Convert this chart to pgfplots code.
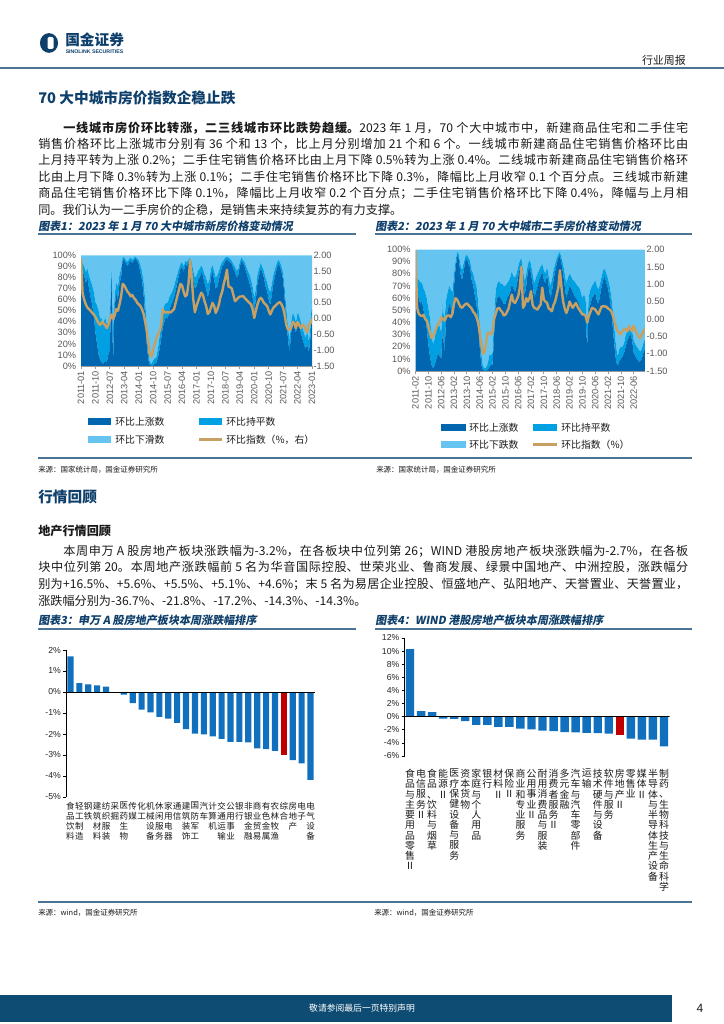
\documentclass[border=0pt]{standalone}
\usepackage{fontspec}
\setmainfont{Noto Sans CJK SC}
\newfontfamily\arial{Liberation Sans}
\newfontfamily\capfont{Noto Sans CJK SC}[FakeSlant=0.18]
\usepackage{pgfplots}
\usepackage{pgfplotstable}
\pgfplotsset{compat=1.18}
\XeTeXlinebreaklocale "zh"
\XeTeXlinebreakskip=0pt plus 2pt minus 0.2pt
\definecolor{navy}{HTML}{0E3F6B}
\definecolor{rulec}{HTML}{4A7396}
\definecolor{cdark}{HTML}{0066B0}
\definecolor{cmid}{HTML}{00A0E2}
\definecolor{clight}{HTML}{66C5F0}
\definecolor{cgold}{HTML}{C9A063}
\definecolor{cbar}{HTML}{1170BE}
\definecolor{cred}{HTML}{C00000}
\definecolor{foot}{HTML}{0F4C73}
\definecolor{tickc}{HTML}{595959}
\definecolor{bodyc}{HTML}{1A1A1A}
\def\vsA#1{\ifx#1\relax\else\hbox to 1em{\hss#1\hss}\expandafter\vsA\fi}
\newcommand\vs[1]{\vbox{\lineskiplimit=-100pt\lineskip=0pt\vsA#1\relax}}
\newcommand\JL[2]{\parbox[t]{#1}{\tolerance=10000\hbadness=10000\parfillskip=0pt\parindent=0pt #2}}
\newcommand\bodyf{\fontsize{9.1}{12}\selectfont}
\newcommand\tickf{\arial\fontsize{6.9}{7.5}\selectfont}
\newcommand\tickg{\arial\fontsize{6.5}{7.5}\selectfont}
\newcommand\labf{\fontsize{6.4}{7.6}\selectfont}
\newcommand\labg{\fontsize{7.4}{7.7}\selectfont}
\newcommand\lgf{\fontsize{7.4}{8.5}\selectfont}
\newcommand\capf{\capfont\bfseries\fontsize{8.3}{10}\selectfont}
\newcommand\srcf{\fontsize{5.6}{7}\selectfont}

\pgfplotstableread[row sep=\\]{
i up flat idx\\
0 90 5 1.90\\ 1 85 8 0.80\\ 2 82 8 0.60\\ 3 75 10 0.45\\ 4 80 8 0.35\\ 5 70 12 0.30\\ 6 62 15 0.25\\ 7 55 18 0.18\\ 8 45 22 0.13\\ 9 30 28 0.05\\
10 20 35 -0.05\\ 11 10 40 -0.15\\ 12 5 38 -0.20\\ 13 3 40 -0.10\\ 14 2 35 -0.15\\ 15 5 40 -0.20\\ 16 3 35 -0.30\\ 17 10 30 -0.20\\ 18 15 30 -0.05\\ 19 80 5 0.13\\
20 5 30 0.00\\ 21 55 10 0.10\\ 22 65 10 0.30\\ 23 60 12 0.25\\ 24 75 8 0.45\\ 25 80 8 0.70\\ 26 97 2 1.10\\ 27 95 3 1.05\\ 28 93 3 0.95\\ 29 90 4 0.85\\
30 94 3 0.80\\ 31 95 3 0.70\\ 32 93 3 0.75\\ 33 96 2 0.65\\ 34 97 2 0.60\\ 35 95 2 0.50\\ 36 92 4 0.45\\ 37 85 6 0.40\\ 38 78 8 0.30\\ 39 65 12 0.15\\
40 45 15 -0.10\\ 41 20 15 -0.40\\ 42 5 8 -0.80\\ 43 1 2 -1.15\\ 44 0 2 -1.20\\ 45 1 4 -1.00\\ 46 2 5 -0.80\\ 47 3 5 -0.60\\ 48 8 8 -0.50\\ 49 15 12 -0.40\\
50 25 15 -0.20\\ 51 35 15 0.30\\ 52 40 15 0.20\\ 53 45 12 0.20\\ 54 42 15 0.20\\ 55 50 12 0.20\\ 56 55 10 0.20\\ 57 58 10 0.25\\ 58 62 10 0.30\\ 59 68 10 0.50\\
60 75 8 0.70\\ 61 82 6 0.90\\ 62 88 4 1.10\\ 63 90 4 1.05\\ 64 85 5 0.85\\ 65 92 3 0.70\\ 66 90 4 0.75\\ 67 93 3 1.10\\ 68 95 3 1.85\\ 69 90 4 1.30\\
70 78 8 0.60\\ 71 70 10 0.20\\ 72 72 10 0.40\\ 73 78 8 0.55\\ 74 80 8 0.70\\ 75 85 6 0.82\\ 76 82 6 0.75\\ 77 75 8 0.55\\ 78 70 10 0.40\\ 79 62 12 0.15\\
80 68 10 0.20\\ 81 80 8 0.35\\ 82 85 6 0.50\\ 83 78 8 0.40\\ 84 70 10 0.18\\ 85 72 10 0.30\\ 86 78 8 0.45\\ 87 85 6 0.70\\ 88 90 4 0.85\\ 89 92 4 1.10\\
90 95 3 1.30\\ 91 97 2 1.55\\ 92 95 3 1.00\\ 93 94 3 1.00\\ 94 92 3 0.95\\ 95 88 4 0.75\\ 96 85 5 0.55\\ 97 80 6 0.60\\ 98 82 6 0.66\\ 99 90 4 0.70\\
100 95 3 0.70\\ 101 93 3 0.72\\ 102 90 4 0.66\\ 103 85 5 0.60\\ 104 80 6 0.55\\ 105 75 8 0.50\\ 106 70 8 0.45\\ 107 62 10 0.30\\ 108 50 12 0.02\\ 109 60 10 0.25\\
110 75 8 0.45\\ 111 82 6 0.60\\ 112 88 5 0.66\\ 113 85 5 0.60\\ 114 80 6 0.50\\ 115 72 8 0.45\\ 116 68 8 0.40\\ 117 60 10 0.25\\ 118 55 12 0.13\\ 119 65 10 0.25\\
120 75 8 0.35\\ 121 82 6 0.40\\ 122 88 5 0.45\\ 123 92 4 0.50\\ 124 90 4 0.52\\ 125 85 5 0.45\\ 126 78 6 0.34\\ 127 60 10 0.10\\ 128 40 12 -0.20\\ 129 25 12 -0.35\\
130 12 10 -0.35\\ 131 30 10 -0.30\\ 132 40 8 -0.10\\ 133 35 10 -0.15\\ 134 30 10 -0.30\\ 135 40 8 -0.10\\ 136 38 8 -0.20\\ 137 30 10 -0.30\\ 138 25 10 -0.20\\ 139 20 10 -0.20\\
140 15 10 -0.35\\ 141 20 12 -0.43\\ 142 12 10 -0.20\\ 143 25 10 -0.15\\ 144 50 10 0.00\\
}\tA

\pgfplotstableread[row sep=\\]{
i up flat idx\\
0 65 12 1.98\\ 1 62 14 0.32\\ 2 60 15 0.15\\ 3 55 18 0.10\\ 4 58 15 0.08\\ 5 50 18 0.12\\ 6 45 20 0.00\\ 7 35 25 -0.05\\ 8 22 30 -0.20\\ 9 12 32 -0.40\\
10 5 25 -0.55\\ 11 2 20 -0.50\\ 12 5 22 -0.40\\ 13 10 25 -0.25\\ 14 15 22 -0.15\\ 15 12 25 -0.10\\ 16 10 22 0.05\\ 17 35 20 0.00\\ 18 15 25 -0.05\\ 19 40 18 0.05\\
20 50 15 0.10\\ 21 55 15 0.10\\ 22 52 15 0.05\\ 23 45 20 0.15\\ 24 70 10 0.45\\ 25 85 6 0.60\\ 26 95 3 0.55\\ 27 92 4 0.45\\ 28 80 8 0.35\\ 29 75 8 0.32\\
30 82 7 0.38\\ 31 90 4 0.42\\ 32 93 3 0.45\\ 33 88 5 0.40\\ 34 85 6 0.35\\ 35 75 8 0.30\\ 36 70 10 0.20\\ 37 62 12 0.15\\ 38 55 15 0.05\\ 39 40 18 -0.10\\
40 20 20 -0.40\\ 41 5 10 -0.75\\ 42 1 3 -1.00\\ 43 0 2 -0.95\\ 44 0 3 -0.70\\ 45 1 5 -0.40\\ 46 3 10 -0.40\\ 47 5 8 -0.45\\ 48 5 10 -0.35\\ 49 30 15 0.00\\
50 55 12 0.15\\ 51 60 12 0.30\\ 52 62 12 0.32\\ 53 60 12 0.25\\ 54 58 14 0.20\\ 55 55 15 0.10\\ 56 55 15 0.12\\ 57 60 12 0.20\\ 58 62 12 0.30\\ 59 65 12 0.50\\
60 72 10 0.70\\ 61 68 10 0.50\\ 62 65 12 0.46\\ 63 70 10 0.55\\ 64 78 8 0.65\\ 65 85 6 0.90\\ 66 88 5 1.50\\ 67 75 8 0.32\\ 68 62 12 0.40\\ 69 70 10 0.60\\
70 82 6 0.50\\ 71 85 6 0.60\\ 72 80 8 0.80\\ 73 72 8 0.40\\ 74 60 12 0.32\\ 75 65 12 0.30\\ 76 70 10 0.27\\ 77 75 8 0.35\\ 78 78 8 0.42\\ 79 82 6 0.90\\
80 75 8 0.55\\ 81 72 8 0.50\\ 82 80 6 0.46\\ 83 70 8 0.30\\ 84 60 10 0.27\\ 85 65 10 0.22\\ 86 75 8 0.40\\ 87 82 6 0.50\\ 88 88 5 0.70\\ 89 93 3 0.90\\
90 95 3 1.40\\ 91 88 5 0.90\\ 92 80 8 0.50\\ 93 70 10 0.30\\ 94 60 12 0.17\\ 95 65 12 0.30\\ 96 70 10 0.50\\ 97 68 10 0.40\\ 98 65 10 0.32\\ 99 62 12 0.40\\
100 60 12 0.46\\ 101 58 12 0.35\\ 102 55 14 0.27\\ 103 50 15 0.20\\ 104 45 15 0.13\\ 105 48 15 0.13\\ 106 45 14 0.08\\ 107 20 15 -0.10\\ 108 50 12 0.08\\ 109 55 12 0.20\\
110 60 10 0.32\\ 111 62 10 0.30\\ 112 65 10 0.27\\ 113 58 12 0.20\\ 114 55 12 0.13\\ 115 62 10 0.25\\ 116 70 8 0.36\\ 117 75 8 0.36\\ 118 78 6 0.36\\ 119 72 8 0.35\\
120 68 8 0.30\\ 121 60 10 0.27\\ 122 50 12 0.22\\ 123 35 15 0.10\\ 124 20 15 -0.08\\ 125 8 12 -0.25\\ 126 4 8 -0.36\\ 127 8 10 -0.40\\ 128 10 10 -0.45\\ 129 12 8 -0.35\\
130 15 8 -0.30\\ 131 20 10 -0.30\\ 132 25 8 -0.36\\ 133 28 8 -0.20\\ 134 30 6 -0.30\\ 135 25 8 -0.36\\ 136 15 10 -0.20\\ 137 12 10 -0.30\\ 138 10 10 -0.43\\ 139 8 10 -0.50\\
140 8 8 -0.55\\ 141 10 8 -0.45\\ 142 15 8 -0.35\\ 143 18 8 -0.28\\
}\tB

\begin{document}
\begin{tikzpicture}[x=0.75pt,y=0.75pt]
\fill[white] (0,0) rectangle (724,1024);
\useasboundingbox (0,0) rectangle (724,1024);
% ---------- header
\fill[navy] (49,981) ellipse [x radius=6.8pt, y radius=7.4pt];
\fill[white, rounded corners=1pt] (47.5,975) rectangle (53.5,987);
\node[anchor=west, inner sep=0, text=navy, font=\bfseries\fontsize{11}{12}\selectfont] at (65,984) {国金证券};
\node[anchor=west, inner sep=0, text=navy, font=\arial\bfseries\fontsize{3.9}{4}\selectfont] at (65.5,972.5) {SINOLINK SECURITIES};
\node[anchor=east, inner sep=0, text=bodyc, font=\fontsize{8.2}{9}\selectfont] at (686,964) {行业周报};
\draw[rulec, line width=1.2pt] (0,956) -- (724,956);
% ---------- section 1
\node[anchor=west, inner sep=0, text=navy, font=\bfseries\fontsize{11}{13}\selectfont] at (38,926) {70 大中城市房价指数企稳止跌};
\begin{scope}[every node/.style={anchor=west, inner sep=0, text=bodyc, font=\bodyf}]
\node at (63,896) {\JL{468.75pt}{{\bfseries 一线城市房价环比转涨，二三线城市环比跌势趋缓。}2023 年 1 月，70 个大中城市中，新建商品住宅和二手住宅}};
\node at (38,879.6) {\JL{487.5pt}{销售价格环比上涨城市分别有 36 个和 13 个，比上月分别增加 21 个和 6 个。一线城市新建商品住宅销售价格环比由}};
\node at (38,863.2) {\JL{487.5pt}{上月持平转为上涨 0.2\%；二手住宅销售价格环比由上月下降 0.5\%转为上涨 0.4\%。二线城市新建商品住宅销售价格环}};
\node at (38,846.8) {\JL{487.5pt}{比由上月下降 0.3\%转为上涨 0.1\%；二手住宅销售价格环比下降 0.3\%，降幅比上月收窄 0.1 个百分点。三线城市新建}};
\node at (38,830.4) {\JL{487.5pt}{商品住宅销售价格环比下降 0.1\%，降幅比上月收窄 0.2 个百分点；二手住宅销售价格环比下降 0.4\%，降幅与上月相}};
\node at (38,814) {同。我们认为一二手房价的企稳，是销售未来持续复苏的有力支撑。};
\end{scope}
% captions 1,2
\node[anchor=west, inner sep=0, text=navy, font=\capf] at (38,798) {图表1：2023 年 1 月 70 大中城市新房价格变动情况};
\node[anchor=west, inner sep=0, text=navy, font=\capf] at (375,798) {图表2：2023 年 1 月 70 大中城市二手房价格变动情况};
\draw[rulec, line width=1pt] (38,790) -- (356,790);
\draw[rulec, line width=1pt] (375,790) -- (692,790);

% ---------- chart 1
\begin{axis}[at={(60.75pt,493.5pt)}, anchor=south west, scale only axis,
 width=173.25pt, height=82.9pt,
 xmin=0, xmax=144, ymin=0, ymax=100,
 stack plots=y, axis on top,
 axis x line*=bottom, axis y line*=left,
 x axis line style={draw=tickc!60, line width=0.6pt},
 y axis line style={draw=none},
 xtick={0,9,...,144},
 xticklabels={2011-01,2011-10,2012-07,2013-04,2014-01,2014-10,2015-07,2016-04,2017-01,2017-10,2018-07,2019-04,2020-01,2020-10,2021-07,2022-04,2023-01},
 xticklabel style={rotate=90, anchor=east, font=\tickf, text=tickc, inner sep=1pt},
 ytick={0,10,...,100},
 yticklabel={\pgfmathprintnumber{\tick}\%},
 yticklabel style={font=\tickf, text=tickc, inner sep=1pt},
 ytick style={draw=none},
 xtick style={draw=tickc!60, line width=0.6pt},
 tick align=outside, major tick length=2.5pt,
 /pgf/number format/assume math mode=true]
\addplot[draw=none, fill=cdark] table[x=i,y=up]{\tA} \closedcycle;
\addplot[draw=none, fill=cmid] table[x=i,y=flat]{\tA} \closedcycle;
\addplot[draw=none, fill=clight] table[x=i,y expr=100-\thisrow{up}-\thisrow{flat}]{\tA} \closedcycle;
\end{axis}
\begin{axis}[at={(60.75pt,493.5pt)}, anchor=south west, scale only axis,
 width=173.25pt, height=82.9pt,
 xmin=0, xmax=144, ymin=-1.5, ymax=2,
 axis x line=none, axis y line*=right,
 y axis line style={draw=none}, ytick style={draw=none},
 ytick={-1.5,-1,...,2},
 yticklabel style={font=\tickf, text=tickc, inner sep=1pt, /pgf/number format/.cd, fixed, fixed zerofill, precision=2, assume math mode=true}]
\addplot[cgold, line width=1.8pt, line join=round] table[x=i,y=idx]{\tA};
\end{axis}
% legend 1
\fill[cdark] (88,599) rectangle (111,606);
\node[anchor=west, inner sep=0, font=\lgf, text=bodyc] at (115,602.5) {环比上涨数};
\fill[cmid] (199,599) rectangle (222,606);
\node[anchor=west, inner sep=0, font=\lgf, text=bodyc] at (226,602.5) {环比持平数};
\fill[clight] (88,581) rectangle (111,588);
\node[anchor=west, inner sep=0, font=\lgf, text=bodyc] at (115,584.5) {环比下滑数};
\draw[cgold, line width=1.9pt] (199,584.5) -- (222,584.5);
\node[anchor=west, inner sep=0, font=\lgf, text=bodyc] at (226,584.5) {环比指数（\%，右）};

% ---------- chart 2
\begin{axis}[at={(311.625pt,489.75pt)}, anchor=south west, scale only axis,
 width=172.1pt, height=91.1pt,
 xmin=0, xmax=143, ymin=0, ymax=100,
 stack plots=y, axis on top,
 axis x line*=bottom, axis y line*=left,
 x axis line style={draw=tickc!60, line width=0.6pt},
 y axis line style={draw=none},
 xtick={0,8,...,136},
 xticklabels={2011-02,2011-10,2012-06,2013-02,2013-10,2014-06,2015-02,2015-10,2016-06,2017-02,2017-10,2018-06,2019-02,2019-10,2020-06,2021-02,2021-10,2022-06},
 xticklabel style={rotate=90, anchor=east, font=\tickf, text=tickc, inner sep=1pt},
 ytick={0,10,...,100},
 yticklabel={\pgfmathprintnumber{\tick}\%},
 yticklabel style={font=\tickf, text=tickc, inner sep=1pt},
 ytick style={draw=none},
 xtick style={draw=tickc!60, line width=0.6pt},
 tick align=outside, major tick length=2.5pt,
 /pgf/number format/assume math mode=true]
\addplot[draw=none, fill=cdark] table[x=i,y=up]{\tB} \closedcycle;
\addplot[draw=none, fill=cmid] table[x=i,y=flat]{\tB} \closedcycle;
\addplot[draw=none, fill=clight] table[x=i,y expr=100-\thisrow{up}-\thisrow{flat}]{\tB} \closedcycle;
\end{axis}
\begin{axis}[at={(311.625pt,489.75pt)}, anchor=south west, scale only axis,
 width=172.1pt, height=91.1pt,
 xmin=0, xmax=143, ymin=-1.5, ymax=2,
 axis x line=none, axis y line*=right,
 y axis line style={draw=none}, ytick style={draw=none},
 ytick={-1.5,-1,...,2},
 yticklabel style={font=\tickf, text=tickc, inner sep=1pt, /pgf/number format/.cd, fixed, fixed zerofill, precision=2, assume math mode=true}]
\addplot[cgold, line width=1.8pt, line join=round] table[x=i,y=idx]{\tB};
\end{axis}
% legend 2
\fill[cdark] (441,592.5) rectangle (466,599.5);
\node[anchor=west, inner sep=0, font=\lgf, text=bodyc] at (469,596) {环比上涨数};
\fill[cmid] (533,592.5) rectangle (557,599.5);
\node[anchor=west, inner sep=0, font=\lgf, text=bodyc] at (561,596) {环比持平数};
\fill[clight] (441,576) rectangle (466,583);
\node[anchor=west, inner sep=0, font=\lgf, text=bodyc] at (469,579.5) {环比下跌数};
\draw[cgold, line width=1.9pt] (533,579.5) -- (557,579.5);
\node[anchor=west, inner sep=0, font=\lgf, text=bodyc] at (561,579.5) {环比指数（\%）};

% sources
\draw[rulec, line width=1pt] (38,566) -- (692,566);
\node[anchor=west, inner sep=0, font=\srcf, text=bodyc] at (38,554) {来源：国家统计局，国金证券研究所};
\node[anchor=west, inner sep=0, font=\srcf, text=bodyc] at (376,554) {来源：国家统计局，国金证券研究所};

% ---------- section 2
\node[anchor=west, inner sep=0, text=navy, font=\bfseries\fontsize{11}{13}\selectfont] at (38,527) {行情回顾};
\node[anchor=west, inner sep=0, text=bodyc, font=\bfseries\fontsize{9.1}{11}\selectfont] at (38,493) {地产行情回顾};
\begin{scope}[every node/.style={anchor=west, inner sep=0, text=bodyc, font=\bodyf}]
\node at (63,473) {\JL{468.75pt}{本周申万 A 股房地产板块涨跌幅为-3.2\%，在各板块中位列第 26；WIND 港股房地产板块涨跌幅为-2.7\%，在各板}};
\node at (38,456.5) {\JL{487.5pt}{块中位列第 20。本周地产涨跌幅前 5 名为华音国际控股、世荣兆业、鲁商发展、绿景中国地产、中洲控股，涨跌幅分}};
\node at (38,440) {\JL{487.5pt}{别为+16.5\%、+5.6\%、+5.5\%、+5.1\%、+4.6\%；末 5 名为易居企业控股、恒盛地产、弘阳地产、天誉置业、天誉置业，}};
\node at (38,423.5) {涨跌幅分别为-36.7\%、-21.8\%、-17.2\%、-14.3\%、-14.3\%。};
\end{scope}
\node[anchor=west, inner sep=0, text=navy, font=\capf] at (38,404) {图表3：申万 A 股房地产板块本周涨跌幅排序};
\node[anchor=west, inner sep=0, text=navy, font=\capf] at (375,404) {图表4：WIND 港股房地产板块本周涨跌幅排序};
\draw[rulec, line width=1pt] (38,395) -- (356,395);
\draw[rulec, line width=1pt] (375,395) -- (692,395);

% ---------- chart 3
\begin{axis}[at={(49.5pt,170.25pt)}, anchor=south west, scale only axis,
 width=186.75pt, height=110.25pt,
 xmin=-0.5, xmax=27.5, ymin=-5, ymax=2,
 axis x line*=bottom, axis y line*=left,
 x axis line style={draw=none}, xtick style={draw=none},
 y axis line style={draw=black, line width=0.5pt},
 ytick={-5,-4,...,2}, yticklabel={\pgfmathprintnumber{\tick}\%},
 tick align=outside, major tick length=2.2pt,
 ytick style={draw=black, line width=0.5pt},
 yticklabel style={font=\tickg, text=black!85, inner sep=1.5pt},
 xtick={0,1,...,27},
 xticklabels={{\vs{食品饮料}},{\vs{轻工制造}},{\vs{钢铁}},{\vs{建筑材料}},{\vs{纺织服装}},{\vs{采掘}},{\vs{医药生物}},{\vs{传媒}},{\vs{化工}},{\vs{机械设备}},{\vs{休闲服务}},{\vs{家用电器}},{\vs{通信}},{\vs{建筑装饰}},{\vs{国防军工}},{\vs{汽车}},{\vs{计算机}},{\vs{交通运输}},{\vs{公用事业}},{\vs{银行}},{\vs{非银金融}},{\vs{商业贸易}},{\vs{有色金属}},{\vs{农林牧渔}},{\vs{综合}},{\vs{房地产}},{\vs{电子}},{\vs{电气设备}}},
 xticklabel style={anchor=north, inner sep=0pt, yshift=-1.5pt, font=\labf, text=bodyc},
 /pgf/number format/assume math mode=true]
\addplot[ybar, bar width=4.6pt, bar shift=0pt, fill=cbar, draw=none] coordinates {
(0,1.70) (1,0.42) (2,0.36) (3,0.31) (4,0.26) (5,-0.02) (6,-0.12) (7,-0.53) (8,-0.84) (9,-0.97)
(10,-1.19) (11,-1.27) (12,-1.47) (13,-1.77) (14,-1.98) (15,-2.02) (16,-2.11) (17,-2.23) (18,-2.38) (19,-2.38)
(20,-2.40) (21,-2.68) (22,-2.72) (23,-2.80) (25,-3.25) (26,-3.40) (27,-4.18)};
\addplot[ybar, bar width=4.6pt, bar shift=0pt, fill=cred, draw=none] coordinates {(24,-2.98)};
\draw[black, line width=0.5pt] (axis cs:-0.5,0) -- (axis cs:27.5,0);
\end{axis}

% ---------- chart 4
\begin{axis}[at={(303.375pt,201pt)}, anchor=south west, scale only axis,
 width=198.75pt, height=88.5pt,
 xmin=-0.5, xmax=23.5, ymin=-6, ymax=12,
 axis x line*=bottom, axis y line*=left,
 x axis line style={draw=none}, xtick style={draw=none},
 y axis line style={draw=black, line width=0.5pt},
 ytick={-6,-4,...,12}, yticklabel={\pgfmathprintnumber{\tick}\%},
 tick align=outside, major tick length=2.2pt,
 ytick style={draw=black, line width=0.5pt},
 yticklabel style={font=\tickg, text=black!85, inner sep=1.5pt},
 xtick={0,1,...,23},
 xticklabels={{\vs{食品与主要用品零售Ⅱ}},{\vs{电信服务Ⅱ}},{\vs{食品、饮料与烟草}},{\vs{能源Ⅱ}},{\vs{医疗保健设备与服务}},{\vs{资本货物}},{\vs{家庭与个人用品}},{\vs{银行}},{\vs{材料Ⅱ}},{\vs{保险Ⅱ}},{\vs{商业和专业服务}},{\vs{公用事业Ⅱ}},{\vs{耐用消费品与服装}},{\vs{消费者服务Ⅱ}},{\vs{多元金融}},{\vs{汽车与汽车零部件}},{\vs{运输}},{\vs{技术硬件与设备}},{\vs{软件与服务}},{\vs{房地产Ⅱ}},{\vs{零售业}},{\vs{媒体Ⅱ}},{\vs{半导体与半导体生产设备}},{\vs{制药、生物科技与生命科学}}},
 xticklabel style={anchor=north, inner sep=0pt, yshift=-7.5pt, font=\labg, text=bodyc},
 /pgf/number format/assume math mode=true]
\addplot[ybar, bar width=6.3pt, bar shift=0pt, fill=cbar, draw=none] coordinates {
(0,10.30) (1,0.85) (2,0.70) (3,-0.30) (4,-0.35) (5,-0.68) (6,-1.25) (7,-1.25) (8,-1.55) (9,-1.55)
(10,-1.82) (11,-1.95) (12,-2.12) (13,-2.22) (14,-2.36) (15,-2.40) (16,-2.46) (17,-2.50) (18,-2.60)
(20,-3.35) (21,-3.50) (22,-3.50) (23,-4.55)};
\addplot[ybar, bar width=6.3pt, bar shift=0pt, fill=cred, draw=none] coordinates {(19,-2.75)};
\draw[black, line width=0.5pt] (axis cs:-0.5,0) -- (axis cs:23.5,0);
\end{axis}

% sources 2
\draw[rulec, line width=1pt] (38,122) -- (692,122);
\node[anchor=west, inner sep=0, font=\srcf, text=bodyc] at (38,111) {来源：wind，国金证券研究所};
\node[anchor=west, inner sep=0, font=\srcf, text=bodyc] at (374,111) {来源：wind，国金证券研究所};

% ---------- footer
\fill[foot] (0,2) rectangle (672,29);
\node[inner sep=0, text=white, font=\fontsize{6.6}{8}\selectfont] at (362,15.5) {敬请参阅最后一页特别声明};
\node[inner sep=0, text=bodyc, font=\arial\fontsize{9}{10}\selectfont] at (700,15.5) {4};
\end{tikzpicture}
\end{document}
